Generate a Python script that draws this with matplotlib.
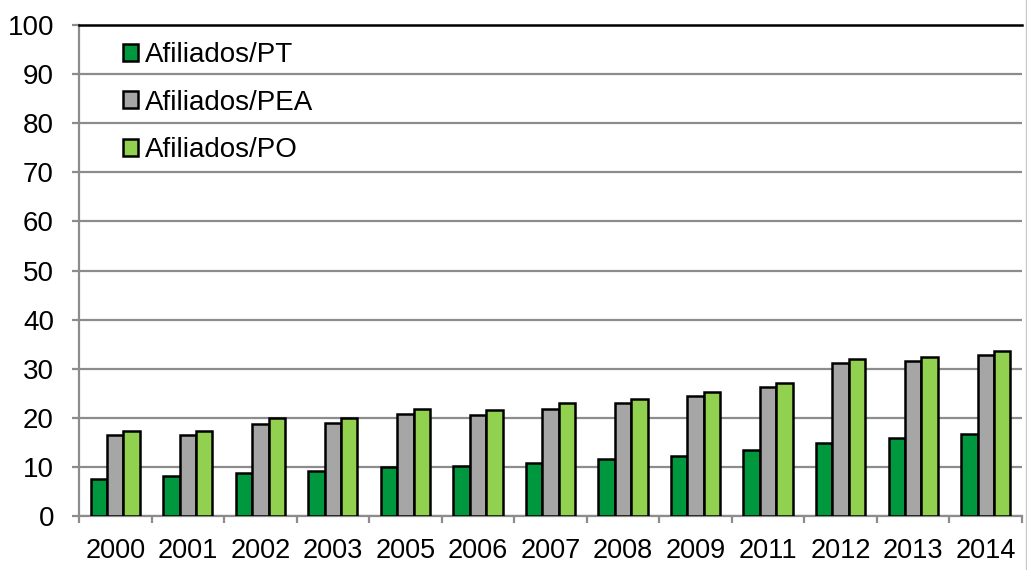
import numpy as np
import matplotlib
matplotlib.use("Agg")
import matplotlib.pyplot as plt
from matplotlib.lines import Line2D

plt.rcParams["font.family"] = ["Liberation Sans", "DejaVu Sans"]

years = ["2000", "2001", "2002", "2003", "2005", "2006", "2007",
         "2008", "2009", "2011", "2012", "2013", "2014"]
afiliados_pt = [7.6, 8.2, 8.8, 9.2, 9.9, 10.2, 10.8, 11.7, 12.2, 13.4, 14.9, 15.9, 16.8]
afiliados_pea = [16.5, 16.5, 18.8, 18.9, 20.7, 20.5, 21.8, 23.1, 24.4, 26.2, 31.2, 31.5, 32.8]
afiliados_po = [17.3, 17.3, 19.9, 19.9, 21.8, 21.6, 23.1, 23.8, 25.3, 27.0, 31.9, 32.4, 33.6]

series = [
    ("Afiliados/PT", afiliados_pt, "#00983F"),
    ("Afiliados/PEA", afiliados_pea, "#A6A6A6"),
    ("Afiliados/PO", afiliados_po, "#92D050"),
]

fig = plt.figure(figsize=(10.27, 5.70), dpi=100)
ax = fig.add_axes([0.0769, 0.0947, 0.9182, 0.8614])

x = np.arange(len(years))
w = 0.226
for i, (name, vals, col) in enumerate(series):
    ax.bar(x + (i - 1) * w, vals, w, color=col, edgecolor="black",
           linewidth=1.8, label=name, zorder=3)

ax.set_xlim(-0.5, len(years) - 0.5)
ax.set_ylim(0, 100)
ax.set_yticks(np.arange(0, 101, 10))
ax.yaxis.grid(True, color="#8C8C8C", linewidth=1.6, zorder=0)

ax.set_xticks(x)
ax.set_xticklabels(years)
ax.set_xticks(np.arange(-0.5, len(years)), minor=True)
ax.tick_params(axis="x", which="major", length=0, pad=16, labelsize=19.5)
ax.tick_params(axis="x", which="minor", length=5, width=1.6, color="#8C8C8C",
               direction="out")
ax.tick_params(axis="y", length=5, width=1.6, color="#8C8C8C", pad=13,
               labelsize=20)

for s in ["left", "bottom"]:
    ax.spines[s].set_color("#8C8C8C")
    ax.spines[s].set_linewidth(1.6)
ax.spines["right"].set_visible(False)
ax.spines["top"].set_color("black")
ax.spines["top"].set_linewidth(1.8)

ax.legend(loc="upper left", bbox_to_anchor=(0.026, 1.005), frameon=False,
          fontsize=20, handlelength=0.55, handleheight=0.55,
          handletextpad=0.25, labelspacing=0.78, borderaxespad=0.3)

fig.add_artist(Line2D([0.9992, 0.9992], [0, 1], transform=fig.transFigure,
                      color="#C8C8C8", linewidth=1))

fig.savefig("out.png", dpi=100)
